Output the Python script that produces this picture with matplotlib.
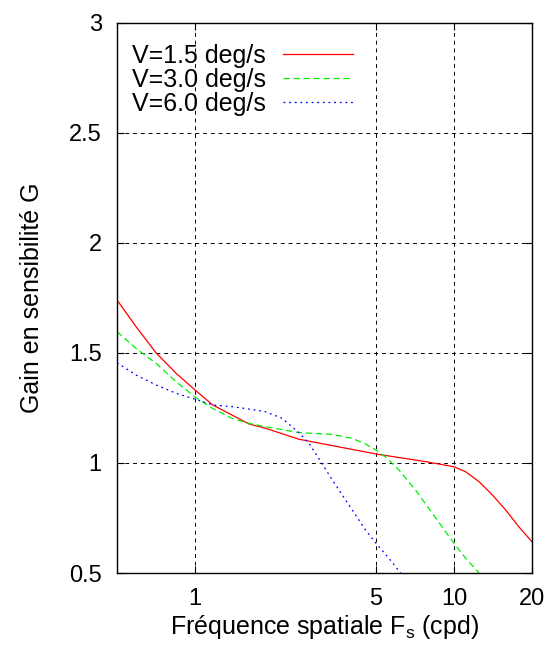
import numpy as np
import matplotlib
matplotlib.use('Agg')
from matplotlib import pyplot as plt
from matplotlib.ticker import FixedLocator, NullLocator, FixedFormatter

# values
freq_v15 = [0.5, 0.592, 0.707, 0.845, 1.0, 1.17, 1.39, 1.62, 1.87, 2.52, 5.0, 7.78,
            10.0, 11.1, 12.5, 14.06, 15.85, 17.8, 20.0]
gain_v15 = [1.741, 1.62, 1.501, 1.408, 1.332, 1.264, 1.218, 1.177, 1.158, 1.108, 1.041, 1.006,
            0.983, 0.96, 0.915, 0.855, 0.786, 0.71, 0.642]

freq_v30 = [0.5, 0.592, 0.707, 0.845, 1.0, 1.17, 1.39, 1.62, 1.87, 2.52, 3.39, 4.05,
            4.56, 5.0, 5.53, 6.13, 7.11, 8.25, 10.0, 11.1, 12.5]
gain_v30 = [1.597, 1.521, 1.453, 1.37, 1.30, 1.248, 1.203, 1.18, 1.165, 1.138, 1.13, 1.112,
            1.086, 1.059, 1.021, 0.968, 0.877, 0.771, 0.635, 0.567, 0.5]

freq_v60 = [0.5, 0.592, 0.707, 0.845, 1.0, 1.17, 1.39, 1.62, 1.87, 2.17, 2.52, 2.76,
            3.06, 3.39, 3.93, 4.56, 5.0, 5.61, 6.22]
gain_v60 = [1.456, 1.40, 1.355, 1.317, 1.29, 1.264, 1.256, 1.245, 1.233, 1.203, 1.138, 1.089,
            1.006, 0.923, 0.809, 0.695, 0.635, 0.567, 0.5]

xticks = [1, 5, 10, 20]
yticks = [0.5, 1, 1.5, 2, 2.5, 3]
ytick_labels = ['0.5', '1', '1.5', '2', '2.5', '3']

plt.rcParams['font.family'] = ['Liberation Sans', 'DejaVu Sans']

fig = plt.figure(figsize=(5.54, 6.49), dpi=100)
ax = fig.add_axes([0.2112, 0.1171, 0.749, 0.8475])

ax.plot(freq_v15, gain_v15, color='#ff0000', lw=0.9, label='V=1.5 deg/s')
ax.plot(freq_v30, gain_v30, color='#00ee00', lw=0.9, dashes=(5, 3), label='V=3.0 deg/s')
ax.plot(freq_v60, gain_v60, color='#0000ff', lw=0.9, dashes=(1.5, 3), label='V=6.0 deg/s')

ax.set_xscale('log')
ax.set_xlim(0.5, 20)
ax.set_ylim(0.5, 3)
ax.xaxis.set_major_locator(FixedLocator(xticks))
ax.xaxis.set_major_formatter(FixedFormatter([str(t) for t in xticks]))
ax.xaxis.set_minor_locator(NullLocator())
ax.set_yticks(yticks)
ax.set_yticklabels(ytick_labels)

# gnuplot style grid: dashed black at major ticks
for t in xticks[:-1]:
    ax.axvline(t, color='k', lw=0.7, dashes=(4, 4), zorder=0)
for t in yticks[1:-1]:
    ax.axhline(t, color='k', lw=0.7, dashes=(4, 4), zorder=0)

ax.tick_params(direction='in', length=5, width=0.8, top=True, right=True,
               labelsize=17)
ax.tick_params(axis='x', pad=11)
ax.tick_params(axis='y', pad=11)
for sp in ax.spines.values():
    sp.set_linewidth(1.0)

ax.set_xlabel('Fréquence spatiale F$_\\mathregular{s}$ (cpd)', fontsize=18, labelpad=2)
ax.set_ylabel('Gain en sensibilité G', fontsize=18, labelpad=18)

leg = ax.legend(loc='upper left', bbox_to_anchor=(0.036, 0.962), frameon=False,
                fontsize=18, markerfirst=False, handlelength=2.8,
                handletextpad=0.7, labelspacing=0.0, borderpad=0, borderaxespad=0)

fig.savefig('out.png', dpi=100)
